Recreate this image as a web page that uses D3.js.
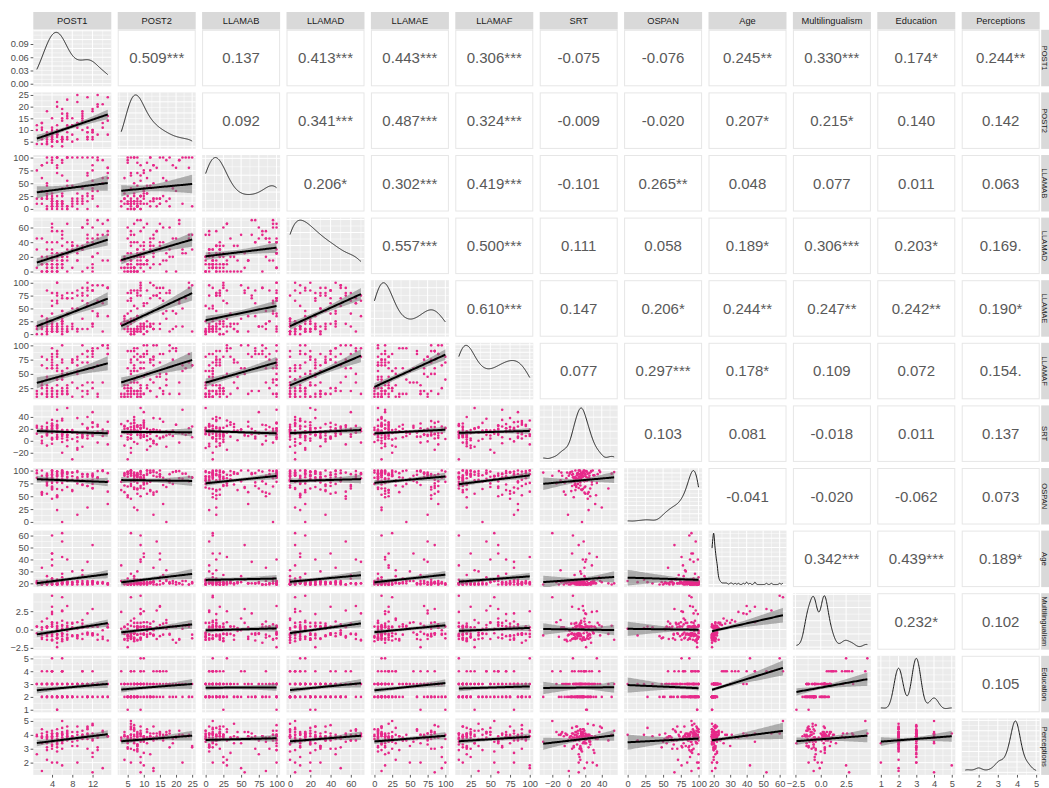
<!DOCTYPE html>
<html>
<head>
<meta charset="utf-8">
<script src="https://cdn.jsdelivr.net/npm/d3@7"></script>
<style>
  html, body { margin: 0; padding: 0; background: #ffffff; }
  svg { display: block; }
</style>
</head>
<body>
<svg id="chart" width="1049" height="788"></svg>
<script>
// ---------------------------------------------------------------
// Participant scores (one value per participant, same order in every array)
// ---------------------------------------------------------------
const varNames = ["POST1","POST2","LLAMAB","LLAMAD","LLAMAE","LLAMAF","SRT","OSPAN","Age","Multilingualism","Education","Perceptions"];

const POST1 = [
  3,1,4,2,6,3,5,4,2,7, 4,3,9,1,5,3,4,2,6,4, 3,8,2,5,4,3,11,5,2,6, 4,3,7,1,5,4,12,3,6,4,
  5,6,4,8,7,3,10,5,6,9, 4,7,5,12,6,2,8,5,11,6, 7,4,13,6,5,3,12,7,4,6, 5,10,6,2,12,5,11,14,4,6,
  8,12,5,10,14,6,11,9,15,7, 13,4,10,12,6,15,9,11,5,13, 8,12,7,14,10,3,11,9,15,6, 12,5,13,8,10,4,15,9,11,7
];
const POST2 = [
  5,4,8,6,3,7,9,5,11,6, 7,4,6,10,5,8,3,13,6,7, 9,5,4,8,15,6,7,5,10,6, 8,4,7,12,5,9,6,18,7,5,
  8,10,6,12,9,7,14,8,5,11, 9,16,7,10,6,13,8,20,9,7, 11,6,8,15,10,4,9,12,7,17, 8,10,6,13,9,22,7,11,8,6,
  12,18,9,15,21,10,24,13,8,17, 25,11,16,7,19,14,22,9,12,20, 15,10,23,13,17,8,11,25,16,14, 19,9,21,12,18,10,24,13,6,15
];
const LLAMAB = [
  0,10,5,20,15,100,0,25,10,5, 15,30,0,20,10,45,5,85,15,0, 25,10,60,5,20,0,15,100,35,10, 5,20,0,75,15,10,40,5,25,95,
  10,25,100,15,0,50,20,5,90,30, 15,100,10,35,65,20,5,80,25,0, 45,15,100,10,70,20,55,5,30,95, 15,40,10,85,25,100,0,60,20,10,
  100,20,85,10,95,30,100,15,70,55, 5,90,25,100,40,80,10,65,100,35, 20,75,100,50,15,90,30,100,60,5, 85,25,95,45,100,10,80,20,70,100
];
const LLAMAD = [
  0,5,10,0,15,5,20,0,10,25, 5,0,15,30,10,0,5,20,35,0, 10,5,15,0,40,10,5,25,0,15, 20,5,0,45,10,15,0,30,5,60,
  15,25,5,35,20,0,30,10,45,15, 25,40,5,20,50,10,30,0,35,20, 15,55,25,10,40,20,5,30,65,15, 0,35,20,45,10,25,50,15,30,5,
  40,20,55,30,65,10,45,35,70,25, 50,15,60,40,20,55,30,70,5,45, 35,60,25,50,0,40,65,30,15,55, 45,20,70,35,60,10,50,25,40,65
];
const LLAMAE = [
  5,10,15,0,20,10,5,25,15,10, 5,30,10,0,15,5,20,10,45,5, 15,10,35,5,20,0,10,65,15,5, 10,25,5,15,80,10,20,5,0,40,
  10,20,65,15,5,30,75,10,25,85, 15,40,5,20,70,10,50,15,90,25, 5,80,35,10,60,20,85,15,5,45, 75,10,30,20,95,15,55,5,80,25,
  70,85,20,90,60,15,100,75,35,80, 95,25,65,85,10,90,50,75,100,40, 80,15,70,95,30,85,60,5,90,75, 45,100,65,20,80,55,90,10,85,70
];
const LLAMAF = [
  15,10,20,25,15,40,10,20,30,15, 65,10,25,15,20,45,10,35,15,80, 20,10,15,55,25,10,20,30,15,70, 10,25,15,20,90,10,35,15,20,60,
  20,45,15,75,30,60,10,85,25,50, 70,15,40,80,20,65,35,90,15,55, 25,75,10,45,85,30,60,20,95,40, 15,70,50,80,25,65,35,100,20,55,
  75,90,60,85,35,100,70,80,95,50, 65,85,20,90,75,100,55,80,40,95, 70,85,60,100,30,75,90,65,85,45, 95,80,15,70,100,60,85,75,90,50
];
const SRT = [
  12,25,-5,18,8,30,15,2,20,10, 35,14,-12,22,6,17,28,0,13,19, 9,-31,24,16,4,11,40,21,7,15, 26,-8,18,12,33,5,23,14,-2,20,
  16,10,29,3,55,19,8,24,13,-15, 21,6,17,31,11,-4,14,27,9,18, 1,23,15,37,7,20,12,-9,25,16, 10,28,4,19,13,52,22,8,15,-20,
  18,11,26,5,14,34,21,-1,16,9, 24,13,7,30,17,-6,12,20,3,27, 15,48,10,19,-10,23,14,6,32,18, 8,22,-3,16,11,25,13,38,4,17
];
const OSPAN = [
  88,95,76,100,62,91,84,97,55,80, 93,71,99,86,48,94,78,90,100,67, 85,96,58,89,92,74,28,98,83,95, 65,90,81,100,52,87,94,77,96,69,
  92,84,100,60,97,79,88,23,93,75, 99,86,64,91,95,53,82,98,70,89, 94,45,87,100,77,92,66,96,85,0, 91,73,98,57,88,94,80,100,63,90,
  96,82,50,93,99,76,88,14,95,68, 86,100,72,91,97,59,84,93,78,99, 89,65,94,100,81,55,92,87,35,96, 74,98,85,62,93,90,79,97,70,88
];
const Age = [
  19,20,21,19,22,20,23,19,20,21, 24,20,19,22,21,20,35,19,20,23, 21,19,20,22,45,20,21,19,20,28, 20,22,19,21,20,60,19,20,21,24,
  20,19,22,21,20,26,19,23,20,21, 40,20,19,22,20,21,30,19,20,22, 21,19,20,25,20,19,52,21,20,22, 19,20,21,33,20,19,22,20,21,62,
  20,21,19,22,20,42,19,21,20,23, 20,19,27,21,20,19,22,38,20,21, 19,20,22,21,31,20,19,21,20,55, 22,19,20,21,20,45,19,22,20,40
];
const Multilingualism = [
  -0.7,0.4,-1.4,-1.1,0.1,-0.5,0.9,-1.5,0.3,-1.2, 0.9,-0.6,-1.0,0.4,-1.2,0.2,2.4,-0.7,0.5,-1.4,
  0.4,-0.8,-1.3,0.0,3.1,-0.9,0.4,-2.4,-0.6,1.2, -0.7,0.3,-1.1,-0.5,0.1,4.6,-0.8,0.4,-1.6,0.7,
  0.4,-0.6,-0.3,0.8,-1.4,1.5,-1.3,0.2,-0.9,1.0, 2.1,-0.7,-1.2,0.4,-0.6,0.0,0.9,-1.8,0.3,-0.5,
  -0.2,-0.9,0.4,0.6,-0.7,-1.4,2.8,0.3,-0.6,0.1, -0.7,0.4,-1.3,1.1,-0.6,0.5,-0.4,-1.0,0.4,4.4,
  0.3,-0.7,-1.1,0.2,-1.3,2.5,0.4,-0.8,-1.5,0.9, -0.7,0.4,0.8,-0.5,-1.4,0.3,0.1,2.2,-0.6,0.4,
  -0.9,-0.6,0.5,-0.1,1.3,0.4,-0.7,-1.2,0.3,2.6, 0.4,-1.2,-1.4,0.1,-0.6,1.0,0.7,-0.8,-0.5,3.2
];
const Education = [
  2,3,2,2,3,2,3,2,3,2, 3,2,2,3,3,2,4,2,3,3, 3,2,3,2,4,3,2,1,3,4, 2,3,2,3,2,5,2,3,2,3,
  3,2,3,2,3,4,2,3,2,3, 4,2,3,3,2,3,3,2,3,2, 3,2,3,4,2,3,4,2,3,3, 2,3,2,4,3,2,3,2,3,4,
  3,2,2,3,3,5,2,3,2,3, 2,3,4,3,2,3,3,3,2,3, 2,3,3,2,4,3,2,3,3,4, 3,1,3,2,3,4,2,3,2,3
];
const Perceptions = [
  3.8,4.0,3.2,4.4,3.6,2.9,4.1,3.9,3.4,4.6, 3.7,2.2,4.0,3.9,3.1,4.2,3.8,1.4,3.6,4.3,
  4.0,3.5,3.9,2.8,4.1,3.7,4.5,3.4,3.8,4.0, 3.3,4.2,3.9,2.6,3.7,4.1,4.8,3.1,4.0,3.6,
  4.1,3.8,2.0,3.9,4.3,3.4,3.7,4.0,3.0,4.2, 3.9,3.6,4.4,2.7,3.8,4.1,3.2,3.9,4.6,3.5,
  3.8,4.0,2.9,4.2,3.7,3.9,1.3,4.1,3.6,4.0, 3.3,3.9,4.5,3.8,2.4,4.0,3.7,4.2,3.0,5.0,
  3.9,4.1,3.5,3.8,4.3,1.8,4.0,3.6,3.9,4.2, 3.1,3.8,4.0,4.7,3.4,3.9,2.0,4.1,3.7,3.8,
  4.2,3.6,3.9,1.6,4.0,3.8,4.4,3.2,3.9,4.1, 3.7,2.0,4.0,3.8,4.3,3.5,3.9,4.6,3.0,4.0
];

// Axis break values for each variable
const ticksPOST1 = [4, 8, 12];
const ticksPOST2 = [5, 10, 15, 20, 25];
const ticksLLAMAB = [0, 25, 50, 75, 100];
const ticksLLAMAD = [0, 20, 40, 60];
const ticksLLAMAE = [0, 25, 50, 75, 100];
const ticksLLAMAF = [25, 50, 75, 100];
const ticksSRT = [-20, 0, 20, 40];
const ticksOSPAN = [0, 25, 50, 75, 100];
const ticksAge = [20, 30, 40, 50, 60];
const ticksMultilingualism = [-2.5, 0, 2.5];
const ticksEducation = [1, 2, 3, 4, 5];
const ticksPerceptions = [2, 3, 4, 5];
const ticksDensityPOST1 = [0, 0.03, 0.06, 0.09];

// Pearson correlations (upper triangle, each row against the variables to its right)
const corPOST1 = [0.509, 0.137, 0.413, 0.443, 0.306, -0.075, -0.076, 0.245, 0.330, 0.174, 0.244];
const sigPOST1 = ["***", "", "***", "***", "***", "", "", "**", "***", "*", "**"];
const corPOST2 = [0.092, 0.341, 0.487, 0.324, -0.009, -0.020, 0.207, 0.215, 0.140, 0.142];
const sigPOST2 = ["", "***", "***", "***", "", "", "*", "*", "", ""];
const corLLAMAB = [0.206, 0.302, 0.419, -0.101, 0.265, 0.048, 0.077, 0.011, 0.063];
const sigLLAMAB = ["*", "***", "***", "", "**", "", "", "", ""];
const corLLAMAD = [0.557, 0.500, 0.111, 0.058, 0.189, 0.306, 0.203, 0.169];
const sigLLAMAD = ["***", "***", "", "", "*", "***", "*", "."];
const corLLAMAE = [0.610, 0.147, 0.206, 0.244, 0.247, 0.242, 0.190];
const sigLLAMAE = ["***", "", "*", "**", "**", "**", "*"];
const corLLAMAF = [0.077, 0.297, 0.178, 0.109, 0.072, 0.154];
const sigLLAMAF = ["", "***", "*", "", "", "."];
const corSRT = [0.103, 0.081, -0.018, 0.011, 0.137];
const sigSRT = ["", "", "", "", ""];
const corOSPAN = [-0.041, -0.020, -0.062, 0.073];
const sigOSPAN = ["", "", "", ""];
const corAge = [0.342, 0.439, 0.189];
const sigAge = ["***", "***", "*"];
const corMultilingualism = [0.232, 0.102];
const sigMultilingualism = ["*", ""];
const corEducation = [0.105];
const sigEducation = [""];

// ---------------------------------------------------------------
// Assemble lookups
// ---------------------------------------------------------------
const columns = [POST1, POST2, LLAMAB, LLAMAD, LLAMAE, LLAMAF, SRT, OSPAN, Age, Multilingualism, Education, Perceptions];
const tickSets = [ticksPOST1, ticksPOST2, ticksLLAMAB, ticksLLAMAD, ticksLLAMAE, ticksLLAMAF, ticksSRT, ticksOSPAN, ticksAge, ticksMultilingualism, ticksEducation, ticksPerceptions];
const corRows = [corPOST1, corPOST2, corLLAMAB, corLLAMAD, corLLAMAE, corLLAMAF, corSRT, corOSPAN, corAge, corMultilingualism, corEducation];
const sigRows = [sigPOST1, sigPOST2, sigLLAMAB, sigLLAMAD, sigLLAMAE, sigLLAMAF, sigSRT, sigOSPAN, sigAge, sigMultilingualism, sigEducation];
const tickFormats = varNames.map(v => v === "Multilingualism" ? d3.format(".1f") : d3.format("d"));

function corr(i, j) { // i < j
  return corRows[i][j - i - 1];
}
function sig(i, j) {
  return sigRows[i][j - i - 1];
}

// ---------------------------------------------------------------
// Layout and style
// ---------------------------------------------------------------
const FONT = "'Liberation Sans', Arial, Helvetica, sans-serif";
const X0 = 33.3, Y0 = 29.8, DX = 84.4, DY = 62.6, PW = 78, PH = 56.5;
const STRIP = 17.5;
const NV = varNames.length;
const N = POST1.length;
const PANEL_BG = "#ebebeb";
const POINT = "#e7298a";
const T975 = 1.98; // t quantile for a 95% band with about 118 df

const svg = d3.select("#chart");
svg.append("rect").attr("width", 1049).attr("height", 788).attr("fill", "#ffffff");

svg.append("defs").append("clipPath").attr("id", "panel-clip")
  .append("rect").attr("x", 0).attr("y", 0).attr("width", PW).attr("height", PH);

// Padded data ranges (5% on each side)
const domains = columns.map(v => {
  const [a, b] = d3.extent(v);
  const p = (b - a) * 0.05;
  return [a - p, b + p];
});
const stats = columns.map(v => ({ mean: d3.mean(v), sd: d3.deviation(v), ext: d3.extent(v) }));
const xScaleOf = i => d3.scaleLinear().domain(domains[i]).range([0, PW]);
const yScaleOf = i => d3.scaleLinear().domain(domains[i]).range([PH, 0]);

// Gaussian kernel density with Silverman's rule-of-thumb bandwidth
function bandwidth(v) {
  const s = d3.deviation(v);
  const sorted = v.slice().sort(d3.ascending);
  const iqr = d3.quantile(sorted, 0.75) - d3.quantile(sorted, 0.25);
  let lo = Math.min(s, iqr / 1.34);
  if (!(lo > 0)) lo = s || 1;
  return 0.9 * lo * Math.pow(v.length, -0.2);
}
function density(v, m = 256) {
  const bw = bandwidth(v);
  const [a, b] = d3.extent(v);
  const c = 1 / (v.length * bw * Math.sqrt(2 * Math.PI));
  return d3.range(m).map(k => {
    const x = a + (b - a) * k / (m - 1);
    let s = 0;
    for (const t of v) { const z = (x - t) / bw; s += Math.exp(-0.5 * z * z); }
    return [x, s * c];
  });
}
const densities = columns.map(v => density(v));
const densityScales = densities.map(d => {
  const mx = d3.max(d, p => p[1]);
  return d3.scaleLinear().domain([-0.05 * mx, 1.05 * mx]).range([PH, 0]);
});

function minorBreaks(major, dom) {
  const step = major.length > 1 ? major[1] - major[0] : 1;
  const ext = [major[0] - step, ...major, major[major.length - 1] + step];
  const out = [];
  for (let k = 0; k < ext.length - 1; k++) {
    const v = (ext[k] + ext[k + 1]) / 2;
    if (v >= dom[0] && v <= dom[1]) out.push(v);
  }
  return out;
}

function drawGrid(g, xs, xMajor, ys, yMajor) {
  const xd = xs.domain(), yd = ys.domain();
  const xM = xMajor.filter(v => v >= xd[0] && v <= xd[1]);
  const yM = yMajor.filter(v => v >= Math.min(...yd) && v <= Math.max(...yd));
  const xm = minorBreaks(xMajor, xd);
  const ym = minorBreaks(yMajor, [Math.min(...yd), Math.max(...yd)]);
  g.selectAll(null).data(xm).join("line")
    .attr("x1", d => xs(d)).attr("x2", d => xs(d)).attr("y1", 0).attr("y2", PH)
    .attr("stroke", "#ffffff").attr("stroke-width", 0.5);
  g.selectAll(null).data(ym).join("line")
    .attr("y1", d => ys(d)).attr("y2", d => ys(d)).attr("x1", 0).attr("x2", PW)
    .attr("stroke", "#ffffff").attr("stroke-width", 0.5);
  g.selectAll(null).data(xM).join("line")
    .attr("x1", d => xs(d)).attr("x2", d => xs(d)).attr("y1", 0).attr("y2", PH)
    .attr("stroke", "#ffffff").attr("stroke-width", 1);
  g.selectAll(null).data(yM).join("line")
    .attr("y1", d => ys(d)).attr("y2", d => ys(d)).attr("x1", 0).attr("x2", PW)
    .attr("stroke", "#ffffff").attr("stroke-width", 1);
}

// Least-squares line implied by the reported correlation, with its 95% band
function fitFromCorrelation(xi, yi, r) {
  const sx = stats[xi].sd, sy = stats[yi].sd, mx = stats[xi].mean, my = stats[yi].mean;
  const slope = r * sy / sx;
  const sxx = (N - 1) * sx * sx;
  const s = Math.sqrt((1 - r * r) * (N - 1) * sy * sy / (N - 2));
  const [a, b] = stats[xi].ext;
  return d3.range(60).map(k => {
    const x = a + (b - a) * k / 59;
    const y = my + slope * (x - mx);
    const se = s * Math.sqrt(1 / N + (x - mx) * (x - mx) / sxx);
    return { x, y, lo: y - T975 * se, hi: y + T975 * se };
  });
}

// ---------------------------------------------------------------
// Panels
// ---------------------------------------------------------------
for (let r = 0; r < NV; r++) {
  for (let c = 0; c < NV; c++) {
    const px = X0 + c * DX, py = Y0 + r * DY;
    const g = svg.append("g").attr("transform", `translate(${px},${py})`);

    if (c > r) {
      // correlation text
      g.append("rect").attr("x", 0.5).attr("y", 0.5).attr("width", PW - 1).attr("height", PH - 1)
        .attr("fill", "#ffffff").attr("stroke", "#e6e6e6").attr("stroke-width", 1);
      const rv = corr(r, c);
      g.append("text")
        .attr("x", PW / 2).attr("y", PH / 2).attr("dy", "0.36em")
        .attr("text-anchor", "middle")
        .attr("font-family", FONT).attr("font-size", 15)
        .attr("fill", "#595959")
        .text(rv.toFixed(3) + sig(r, c));
    } else if (c === r) {
      // marginal density
      const xs = xScaleOf(c), ys = densityScales[c];
      g.append("rect").attr("width", PW).attr("height", PH).attr("fill", PANEL_BG);
      drawGrid(g, xs, tickSets[c], ys, ys.ticks(5));
      g.append("path")
        .attr("d", d3.line().x(d => xs(d[0])).y(d => ys(d[1]))(densities[c]))
        .attr("fill", "none").attr("stroke", "#1a1a1a").attr("stroke-width", 1);
    } else {
      // scatter with linear fit
      const xs = xScaleOf(c), ys = yScaleOf(r);
      g.append("rect").attr("width", PW).attr("height", PH).attr("fill", PANEL_BG);
      drawGrid(g, xs, tickSets[c], ys, tickSets[r]);
      const inner = g.append("g").attr("clip-path", "url(#panel-clip)");
      inner.selectAll("circle").data(d3.range(N)).join("circle")
        .attr("cx", k => xs(columns[c][k]))
        .attr("cy", k => ys(columns[r][k]))
        .attr("r", 1.3)
        .attr("fill", POINT);
      const fit = fitFromCorrelation(c, r, corr(c, r));
      inner.append("path")
        .attr("d", d3.area().x(d => xs(d.x)).y0(d => ys(d.lo)).y1(d => ys(d.hi))(fit))
        .attr("fill", "#777777").attr("fill-opacity", 0.55);
      inner.append("path")
        .attr("d", d3.line().x(d => xs(d.x)).y(d => ys(d.y))(fit))
        .attr("fill", "none").attr("stroke", "#000000").attr("stroke-width", 2);
    }
  }
}

// ---------------------------------------------------------------
// Strips
// ---------------------------------------------------------------
const rightStripX = X0 + (NV - 1) * DX + PW + 1.5;
varNames.forEach((name, i) => {
  const px = X0 + i * DX;
  svg.append("rect").attr("x", px).attr("y", Y0 - STRIP - 0.3).attr("width", PW).attr("height", STRIP)
    .attr("fill", "#d9d9d9");
  svg.append("text").attr("x", px + PW / 2).attr("y", Y0 - 0.3 - STRIP / 2).attr("dy", "0.35em")
    .attr("text-anchor", "middle").attr("font-family", FONT).attr("font-size", 9.3)
    .attr("fill", "#1a1a1a").text(name);

  // row strip on the right edge (text kept inside the visible part of the strip)
  const py = Y0 + i * DY;
  svg.append("rect").attr("x", rightStripX).attr("y", py).attr("width", STRIP).attr("height", PH)
    .attr("fill", "#d9d9d9");
  svg.append("text")
    .attr("transform", `translate(${1049 - 4.6},${py + PH / 2}) rotate(90)`)
    .attr("dy", "0.35em")
    .attr("text-anchor", "middle").attr("font-family", FONT).attr("font-size", 7.6)
    .attr("fill", "#1a1a1a").text(name);
});

// ---------------------------------------------------------------
// Axes
// ---------------------------------------------------------------
function styleAxis(sel) {
  sel.select(".domain").remove();
  sel.selectAll(".tick line").attr("stroke", "#333333").attr("stroke-width", 0.8);
  sel.selectAll(".tick text").attr("fill", "#4d4d4d").attr("font-family", FONT).attr("font-size", 9.3);
  sel.attr("font-family", null).attr("font-size", null);
}

for (let r = 0; r < NV; r++) {
  const py = Y0 + r * DY;
  let axis;
  if (r === 0) {
    axis = d3.axisLeft(densityScales[0]).tickValues(ticksDensityPOST1).tickFormat(d3.format(".2f"));
  } else {
    axis = d3.axisLeft(yScaleOf(r)).tickValues(tickSets[r]).tickFormat(tickFormats[r]);
  }
  axis.tickSize(2.7).tickPadding(1.8);
  svg.append("g").attr("transform", `translate(${X0},${py})`).call(axis).call(styleAxis);
}

for (let c = 0; c < NV; c++) {
  const px = X0 + c * DX;
  const axis = d3.axisBottom(xScaleOf(c)).tickValues(tickSets[c]).tickFormat(tickFormats[c])
    .tickSize(2.7).tickPadding(2.4);
  svg.append("g").attr("transform", `translate(${px},${Y0 + (NV - 1) * DY + PH})`).call(axis).call(styleAxis);
}
</script>
</body>
</html>
